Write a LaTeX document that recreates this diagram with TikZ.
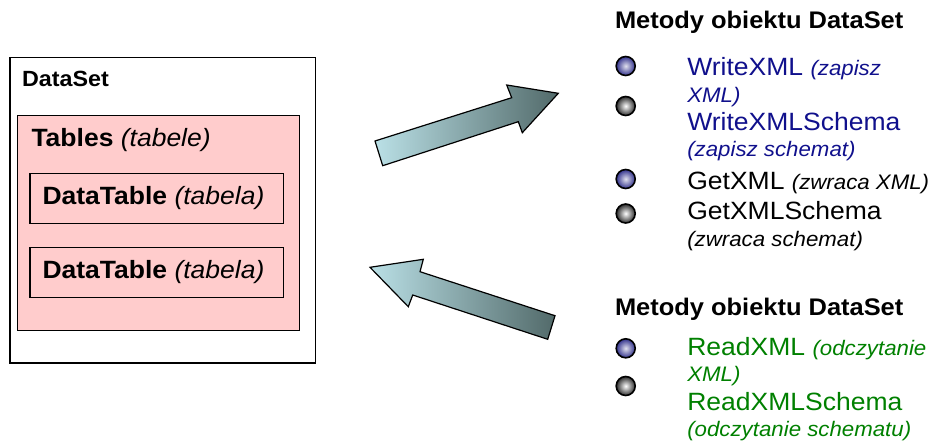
\documentclass[tikz,border=0pt]{standalone}
\usepackage{fontspec}
\setmainfont{Liberation Sans}[FakeStretch=1.06]
\definecolor{pinkfill}{RGB}{255,204,204}
\definecolor{arrowlight}{RGB}{186,224,230}
\definecolor{arrowdark}{RGB}{82,106,106}
\definecolor{navytext}{RGB}{16,16,140}
\definecolor{greentext}{RGB}{0,128,0}
\definecolor{bulletblue}{RGB}{50,50,140}
\definecolor{bulletgray}{RGB}{45,45,45}
\tikzset{
  box/.style={draw=black, line width=1.2pt},
  lbl/.style={anchor=base west, inner sep=0pt, outer sep=0pt},
  bigfont/.style={font=\fontsize{25}{30}\selectfont},
  titlefont/.style={font=\bfseries\fontsize{24}{28}\selectfont},
  fatarrow/.style={draw=black, line width=1.2pt, line join=miter, left color=arrowlight, right color=arrowdark},
  bulletA/.style={circle, draw=black, line width=1.6pt, inner sep=0pt, minimum size=19pt, inner color=white!85!bulletblue, outer color=bulletblue},
  bulletB/.style={circle, draw=black, line width=1.6pt, inner sep=0pt, minimum size=19pt, inner color=white, outer color=bulletgray},
}
\newcommand{\itsm}[1]{{\itshape\fontsize{21}{25}\selectfont #1}}
\begin{document}
\begin{tikzpicture}[x=1pt,y=-1pt]
\useasboundingbox (0,0) rectangle (933,443);
% left structure
\draw[box, fill=white] (10,57.7) rectangle (315.7,363);
\node[lbl, font=\bfseries\fontsize{22}{26}\selectfont] (ds) at (22,86.7) {DataSet};
\draw[box, fill=pinkfill] (17.3,115.7) rectangle (299.3,330.7);
\node[lbl, bigfont] (tab) at (31.5,146.7) {\textbf{Tables} \textit{(tabele)}};
\draw[box] (30,173.3) rectangle (283.3,223.3);
\node[lbl, bigfont] (dt1) at (42.5,205) {\textbf{DataTable} \textit{(tabela)}};
\draw[box] (30,247.7) rectangle (283.3,297.7);
\node[lbl, bigfont] (dt2) at (42.5,279) {\textbf{DataTable} \textit{(tabela)}};
% arrows
\draw[fatarrow] (382.7,165.7) -- (375,141) -- (511.7,97.7) -- (506.7,85) -- (558.3,93.3) -- (522.3,132.7) -- (518.3,121.7) -- cycle;
\draw[fatarrow] (370,267.3) -- (423.3,259.3) -- (420,271.7) -- (555,315.7) -- (547.7,339.3) -- (412.7,295) -- (408.3,306.7) -- cycle;
% right top block
\node[lbl, titlefont] (t1) at (615,29) {Metody obiektu DataSet};
\node[bulletA] (b1) at (625.7,66) {};
\node[bulletB] (b2) at (625.7,106) {};
\node[bulletA] (b3) at (625.7,179) {};
\node[bulletB] (b4) at (625.7,213.5) {};
\node[lbl, bigfont, text=navytext] (w1) at (687.3,76) {WriteXML \itsm{(zapisz}};
\node[lbl, text=navytext] (w2) at (687.3,102.7) {\itsm{XML)}};
\node[lbl, bigfont, text=navytext] (w3) at (687.3,131) {WriteXMLSchema};
\node[lbl, text=navytext] (w4) at (687.3,157) {\itsm{(zapisz schemat)}};
\node[lbl, bigfont] (g1) at (687.3,190) {GetXML \itsm{(zwraca XML)}};
\node[lbl, bigfont] (g2) at (687.3,220) {GetXMLSchema};
\node[lbl] (g3) at (687.3,246.7) {\itsm{(zwraca schemat)}};
% right bottom block
\node[lbl, titlefont] (t2) at (615,315.7) {Metody obiektu DataSet};
\node[bulletA] (b5) at (625.7,348.3) {};
\node[bulletB] (b6) at (625.7,386) {};
\node[lbl, bigfont, text=greentext] (r1) at (687.3,355) {ReadXML \itsm{(odczytanie}};
\node[lbl, text=greentext] (r2) at (687.3,381) {\itsm{XML)}};
\node[lbl, bigfont, text=greentext] (r3) at (687.3,410) {ReadXMLSchema};
\node[lbl, text=greentext] (r4) at (687.3,436.7) {\itsm{(odczytanie schematu)}};
\end{tikzpicture}
\end{document}
